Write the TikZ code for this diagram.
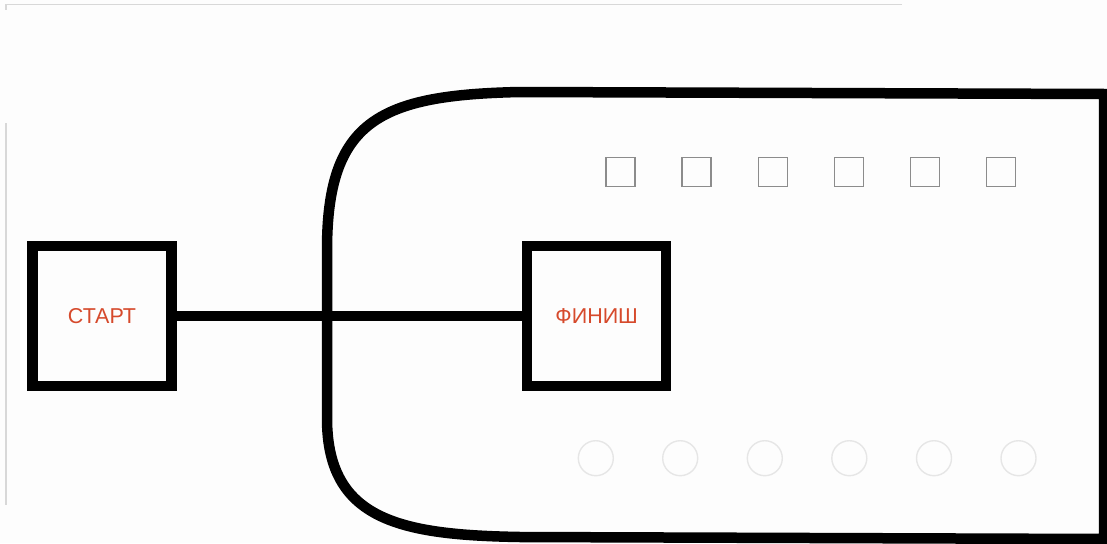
\documentclass[tikz,border=0pt]{standalone}
\usepackage{fontspec}
\setmainfont{Liberation Sans}
\definecolor{bg}{HTML}{FDFDFD}
\definecolor{lbl}{RGB}{214,74,44}
\definecolor{sqgray}{HTML}{8C8C8C}
\definecolor{cirgray}{HTML}{E6E6E6}
\definecolor{edgegray}{HTML}{D8D8D8}
\tikzset{
  bigbox/.style={draw=black, line width=10.5pt, minimum width=139pt, minimum height=140pt, inner sep=0pt,
     text=lbl, font=\fontsize{21.5}{25}\selectfont},
  link/.style={draw=black, line width=9.5pt},
  smallsq/.style={draw=sqgray, line width=1.4pt, minimum size=29pt, inner sep=0pt},
  faintcirc/.style={draw=cirgray, line width=1.4pt, circle, minimum size=35pt, inner sep=0pt},
  outline/.style={draw=black, line width=10.5pt, line join=miter},
  edge/.style={draw=edgegray, line width=1.2pt}
}
\begin{document}
\begin{tikzpicture}[x=1pt,y=-1pt]
\fill[bg] (0,0) rectangle (1107,543);
\useasboundingbox (0,0) rectangle (1107,543);
% faint page edges
\coordinate (tl) at (6,4.5);
\coordinate (tr) at (902,4.5);
\coordinate (la) at (6,10);
\coordinate (lb) at (6,123);
\coordinate (lc) at (6,505);
\draw[edge] (tr) -- (tl) -- (la);
\draw[edge] (lb) -- (lc);
% big rounded outline
\draw[outline] (1104,94) -- (520,92) .. controls (380,95) and (327,120) .. (327,250)
  -- (327,420) .. controls (328,520) and (400,535) .. (520,537) -- (1104,539) -- cycle;
% small squares
\foreach \i/\x in {1/620.5,2/696.5,3/772.8,4/849,5/925,6/1001}
  \node[smallsq] (sq\i) at (\x,171.8) {};
% faint circles
\foreach \i/\x in {1/595.8,2/680.2,3/764.8,4/849.3,5/934,6/1018.5}
  \node[faintcirc] (c\i) at (\x,458.2) {};
% boxes
\node[bigbox] (start) at (102,316) {СТАРТ};
\node[bigbox] (finish) at (596.7,316) {ФИНИШ};
\draw[link] (start.east) -- (finish.west);
\end{tikzpicture}
\end{document}
